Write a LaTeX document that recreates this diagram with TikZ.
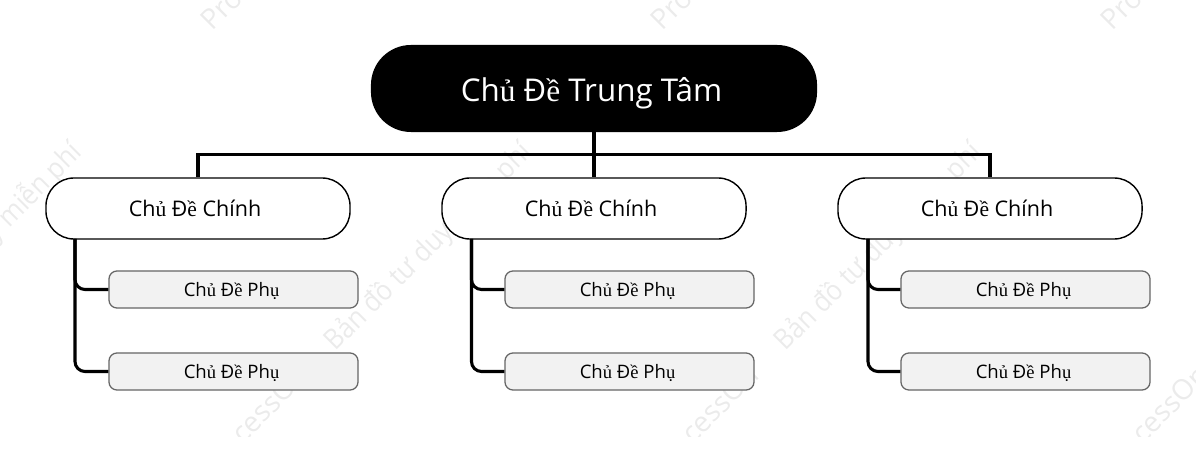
\documentclass[tikz,border=0pt]{standalone}
\usepackage{fontspec}
\setmainfont{Open Sans}
\newfontfamily\fbfont{Liberation Serif}
\newfontfamily\wmfont[FakeStretch=0.91]{Open Sans}
\newcommand{\fb}[1]{{\fbfont #1}}
\newcommand{\wmtext}{\makebox[125pt][l]{ProcessOn}{\wmfont Bản đồ tư duy miễn phí}}
\definecolor{subfill}{HTML}{F2F2F2}
\definecolor{subline}{HTML}{666666}
\definecolor{wmgray}{HTML}{EBEBEB}
\begin{document}
\begin{tikzpicture}[
    x=0.025cm, y=-0.025cm,
    root/.style={rectangle, fill=black, text=white, rounded corners=1cm, minimum width=11.15cm, minimum height=2.175cm, text height=19.1pt, text depth=0pt, execute at end node={\kern3.5pt}, font=\fontsize{22.3}{26}\selectfont},
    topic/.style={rectangle, draw, fill=white, line width=1pt, rounded corners=0.7cm, minimum width=7.6cm, minimum height=1.525cm, text height=12pt, text depth=0pt, execute at end node={\kern4.2pt}, font=\fontsize{15.3}{19}\selectfont},
    subtopic/.style={rectangle, draw=subline, fill=subfill, line width=0.9pt, rounded corners=0.2cm, minimum width=6.225cm, minimum height=0.925cm, text height=9.8pt, text depth=0pt, execute at end node={\kern2.8pt}, font=\fontsize{13.2}{16}\selectfont},
    bus/.style={line width=2.2pt},
    branch/.style={line width=2.2pt, rounded corners=0.25cm},
    wmark/.style={text=wmgray, rotate=45, anchor=west, inner sep=0pt, font=\fontsize{20}{24}\selectfont}
]
\useasboundingbox (0,0) rectangle (1196,451);

% Watermark
\begin{scope}
\clip (0,0) rectangle (1196,436);
\node[wmark] (wm1) at (-245,470) {\wmtext};
\node[wmark] (wm2) at (205,470) {\wmtext};
\node[wmark] (wm3) at (655,470) {\wmtext};
\node[wmark] (wm4) at (1105,470) {\wmtext};
\node[wmark] (wm5) at (205,25) {ProcessOn};
\node[wmark] (wm6) at (655,25) {ProcessOn};
\node[wmark] (wm7) at (1105,25) {ProcessOn};
\end{scope}

% Central topic
\node[root] (root) at (594,88.5) {Ch\fb{ủ} Đ\fb{ề} Trung Tâm};

% Main topics
\node[topic] (main1) at (198,208.5) {Ch\fb{ủ} Đ\fb{ề} Chính};
\node[topic] (main2) at (594,208.5) {Ch\fb{ủ} Đ\fb{ề} Chính};
\node[topic] (main3) at (990,208.5) {Ch\fb{ủ} Đ\fb{ề} Chính};

% Sub topics
\node[subtopic] (sub11) at (233.5,289.5) {Ch\fb{ủ} Đ\fb{ề} Ph\fb{ụ}};
\node[subtopic] (sub12) at (233.5,371.5) {Ch\fb{ủ} Đ\fb{ề} Ph\fb{ụ}};
\node[subtopic] (sub21) at (629.5,289.5) {Ch\fb{ủ} Đ\fb{ề} Ph\fb{ụ}};
\node[subtopic] (sub22) at (629.5,371.5) {Ch\fb{ủ} Đ\fb{ề} Ph\fb{ụ}};
\node[subtopic] (sub31) at (1025.5,289.5) {Ch\fb{ủ} Đ\fb{ề} Ph\fb{ụ}};
\node[subtopic] (sub32) at (1025.5,371.5) {Ch\fb{ủ} Đ\fb{ề} Ph\fb{ụ}};

% Free ends
\coordinate (hub) at (594,154.5);
\coordinate (trunk1) at (75,239);
\coordinate (trunk2) at (471.5,239);
\coordinate (trunk3) at (868,239);

% Connectors
\draw[bus] (root.south) -- (main2.north);
\draw[bus] (main1.north) |- (hub) -| (main3.north);
\draw[branch] (trunk1) |- (sub11.west);
\draw[branch] (trunk1) |- (sub12.west);
\draw[branch] (trunk2) |- (sub21.west);
\draw[branch] (trunk2) |- (sub22.west);
\draw[branch] (trunk3) |- (sub31.west);
\draw[branch] (trunk3) |- (sub32.west);

\end{tikzpicture}
\end{document}
